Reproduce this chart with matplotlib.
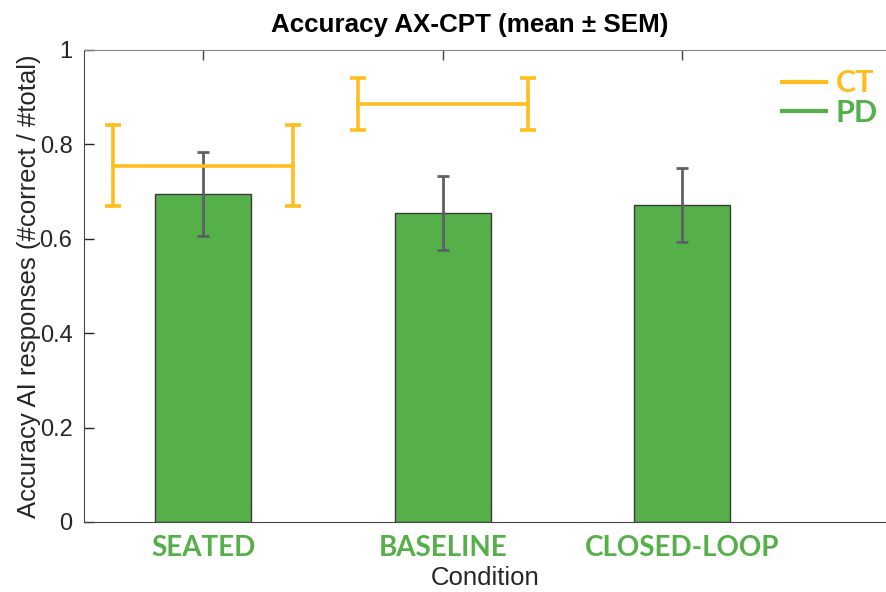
import numpy as np
import matplotlib
matplotlib.use('Agg')
import matplotlib.pyplot as plt
from matplotlib.lines import Line2D

conditions = ['SEATED', 'BASELINE', 'CLOSED-LOOP']
pd_mean = [0.694, 0.654, 0.671]
pd_sem = [0.089, 0.078, 0.078]
# CT only measured for the first two conditions
ct_mean = [0.755, 0.886]
ct_sem = [0.086, 0.055]

green = '#55b049'
orange = '#ffbe1e'
errgray = '#5c6166'

plt.rcParams['font.family'] = ['Liberation Sans', 'DejaVu Sans']

fig = plt.figure(figsize=(8.87, 5.92), dpi=100)
ax = fig.add_axes([83.5/887, 70/592, 1 - 83.5/887, 472/592])

x = np.arange(1, len(conditions) + 1)
ax.bar(x, pd_mean, width=0.4, color=green, edgecolor='#3a3a3a', linewidth=1.0, zorder=2)
ax.errorbar(x, pd_mean, yerr=pd_sem, fmt='none', ecolor=errgray, elinewidth=2,
            capsize=4.5, capthick=2, zorder=3)

# CT drawn as a horizontal segment with error bars at both ends
ct_half = [0.375, 0.355]
for i, (m, s) in enumerate(zip(ct_mean, ct_sem)):
    cx = [x[i] - ct_half[i], x[i] + ct_half[i]]
    eb = ax.errorbar(cx, [m, m], yerr=[s, s], color=orange, lw=2.6, elinewidth=2.6,
                     capsize=5.5, capthick=2.6, zorder=4)
    for c in eb[1]:
        c.set_solid_capstyle('round')
    for c in eb[2]:
        c.set_capstyle('round')

ax.set_xlim(0.5, 0.5 + (887 - 83.5)/239.5)
ax.set_ylim(0, 1)
ax.set_xticks(x)
ax.set_xticklabels(conditions, color=green, fontsize=20, fontweight='bold', family='Lato')
ax.set_yticks([0, 0.2, 0.4, 0.6, 0.8, 1])
ax.set_yticklabels(['0', '0.2', '0.4', '0.6', '0.8', '1'])
ax.tick_params(axis='y', direction='in', length=7, labelsize=17, colors='#262626', width=1, pad=8)
ax.tick_params(axis='x', direction='in', length=7, width=1, color='#444444', top=True, pad=9)
ax.spines['right'].set_visible(False)
for sp in ['left', 'bottom']:
    ax.spines[sp].set_color('#444444')
ax.spines['top'].set_color('#888888')

ax.set_ylabel('Accuracy AI responses (#correct / #total)', fontsize=18.5, color='#262626', labelpad=-1)
ax.set_xlabel('Condition', fontsize=18.5, color='#262626', labelpad=4)
ax.set_title('Accuracy AX-CPT (mean \u00b1 SEM)', fontsize=18.7, fontweight='bold', pad=13, x=(470 - 83.5)/803.5)

handles = [Line2D([], [], color=orange, lw=3), Line2D([], [], color=green, lw=3)]
leg = ax.legend(handles, ['CT', 'PD'], frameon=False, loc='upper right',
                bbox_to_anchor=(893/887, 1 - 54/592), bbox_transform=fig.transFigure,
                handlelength=1.45, handletextpad=0.3, labelspacing=0.05, borderpad=0,
                prop={'family': 'Lato', 'weight': 'bold', 'size': 22})
for t, c in zip(leg.get_texts(), [orange, green]):
    t.set_color(c)

fig.savefig('out.png', dpi=100)
